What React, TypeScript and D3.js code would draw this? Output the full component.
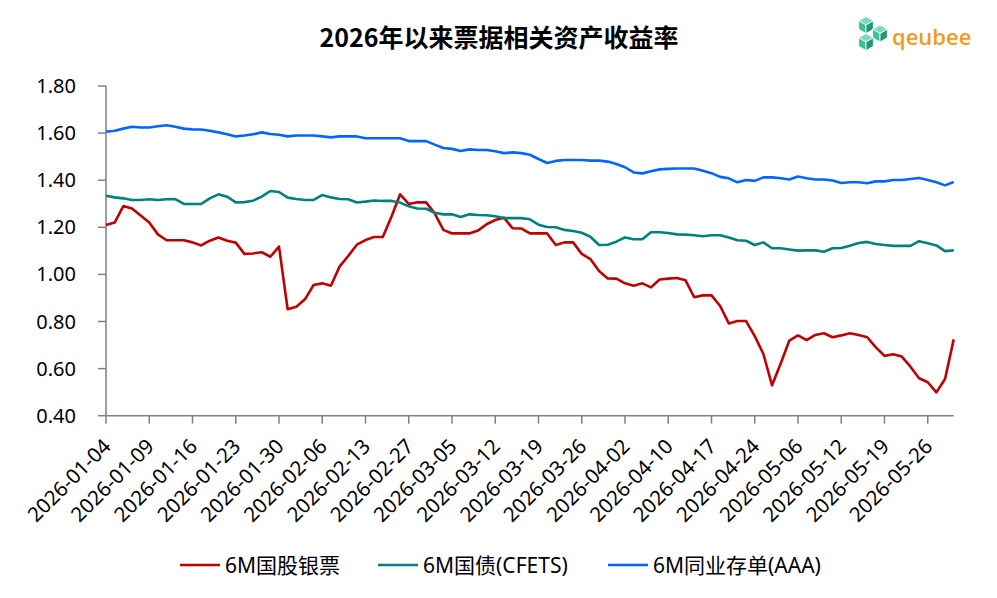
import React from "react";
import * as d3 from "d3";

const dates: string[] = [
  "2026-01-04","2026-01-05","2026-01-06","2026-01-07","2026-01-08","2026-01-09",
  "2026-01-12","2026-01-13","2026-01-14","2026-01-15","2026-01-16",
  "2026-01-19","2026-01-20","2026-01-21","2026-01-22","2026-01-23",
  "2026-01-26","2026-01-27","2026-01-28","2026-01-29","2026-01-30",
  "2026-02-02","2026-02-03","2026-02-04","2026-02-05","2026-02-06",
  "2026-02-09","2026-02-10","2026-02-11","2026-02-12","2026-02-13",
  "2026-02-14","2026-02-24","2026-02-25","2026-02-26","2026-02-27",
  "2026-02-28","2026-03-02","2026-03-03","2026-03-04","2026-03-05",
  "2026-03-06","2026-03-09","2026-03-10","2026-03-11","2026-03-12",
  "2026-03-13","2026-03-16","2026-03-17","2026-03-18","2026-03-19",
  "2026-03-20","2026-03-23","2026-03-24","2026-03-25","2026-03-26",
  "2026-03-27","2026-03-30","2026-03-31","2026-04-01","2026-04-02",
  "2026-04-03","2026-04-07","2026-04-08","2026-04-09","2026-04-10",
  "2026-04-13","2026-04-14","2026-04-15","2026-04-16","2026-04-17",
  "2026-04-20","2026-04-21","2026-04-22","2026-04-23","2026-04-24",
  "2026-04-27","2026-04-28","2026-04-29","2026-04-30","2026-05-06",
  "2026-05-07","2026-05-08","2026-05-09","2026-05-11","2026-05-12",
  "2026-05-13","2026-05-14","2026-05-15","2026-05-18","2026-05-19",
  "2026-05-20","2026-05-21","2026-05-22","2026-05-25","2026-05-26",
  "2026-05-27","2026-05-28","2026-05-29",
];

const tickLabels: string[] = [
  "2026-01-04","2026-01-09","2026-01-16","2026-01-23","2026-01-30",
  "2026-02-06","2026-02-13","2026-02-27","2026-03-05","2026-03-12",
  "2026-03-19","2026-03-26","2026-04-02","2026-04-10","2026-04-17",
  "2026-04-24","2026-05-06","2026-05-12","2026-05-19","2026-05-26",
];

const bankBill: number[] = [
  1.21,1.22,1.29,1.28,1.25,1.22,1.17,1.145,1.145,1.145,
  1.136,1.123,1.143,1.157,1.143,1.135,1.087,1.089,1.094,1.075,
  1.118,0.852,0.863,0.894,0.955,0.962,0.952,1.033,1.078,1.126,
  1.146,1.159,1.159,1.245,1.34,1.299,1.306,1.306,1.259,1.189,
  1.174,1.174,1.174,1.186,1.213,1.231,1.241,1.196,1.195,1.174,
  1.174,1.174,1.125,1.136,1.136,1.087,1.065,1.014,0.983,0.982,
  0.962,0.952,0.962,0.945,0.978,0.982,0.985,0.975,0.903,0.911,
  0.911,0.866,0.792,0.802,0.802,0.738,0.662,0.529,0.622,0.719,
  0.741,0.721,0.743,0.75,0.733,0.741,0.75,0.743,0.733,0.69,
  0.654,0.661,0.651,0.608,0.559,0.542,0.499,0.556,0.724,
];

const govBond: number[] = [
  1.334,1.327,1.323,1.316,1.316,1.319,1.316,1.319,1.32,1.299,
  1.299,1.299,1.323,1.34,1.33,1.306,1.307,1.313,1.33,1.354,
  1.35,1.326,1.32,1.316,1.316,1.337,1.327,1.32,1.319,1.305,
  1.309,1.314,1.312,1.312,1.305,1.289,1.28,1.279,1.262,1.255,
  1.255,1.244,1.255,1.252,1.251,1.247,1.239,1.239,1.239,1.234,
  1.211,1.201,1.2,1.189,1.184,1.177,1.16,1.125,1.126,1.139,
  1.157,1.149,1.149,1.179,1.179,1.176,1.17,1.169,1.166,1.162,
  1.166,1.166,1.157,1.145,1.143,1.125,1.136,1.111,1.111,1.106,
  1.101,1.102,1.102,1.096,1.111,1.112,1.122,1.133,1.138,1.129,
  1.125,1.121,1.121,1.121,1.141,1.132,1.123,1.099,1.102,
];

const ncd: number[] = [
  1.606,1.61,1.619,1.627,1.624,1.624,1.629,1.633,1.627,1.619,
  1.616,1.615,1.61,1.603,1.595,1.586,1.59,1.595,1.603,1.596,
  1.593,1.586,1.59,1.59,1.59,1.586,1.582,1.586,1.586,1.586,
  1.578,1.578,1.578,1.578,1.578,1.566,1.566,1.566,1.551,1.537,
  1.533,1.524,1.531,1.528,1.528,1.523,1.515,1.518,1.515,1.508,
  1.49,1.473,1.482,1.486,1.486,1.486,1.483,1.483,1.479,1.469,
  1.455,1.433,1.429,1.438,1.446,1.448,1.45,1.45,1.45,1.44,
  1.43,1.414,1.408,1.391,1.401,1.397,1.412,1.412,1.408,1.403,
  1.416,1.408,1.403,1.403,1.399,1.388,1.391,1.391,1.387,1.395,
  1.395,1.401,1.401,1.405,1.409,1.401,1.391,1.378,1.392,
];

const yTicks: number[] = [0.4, 0.6, 0.8, 1.0, 1.2, 1.4, 1.6, 1.8];

const seriesNames: string[] = ["6M国股银票", "6M国债(CFETS)", "6M同业存单(AAA)"];
const seriesColors: string[] = ["#C00000", "#00807F", "#0066FF"];

const FONT = "'Noto Sans', 'Noto Sans CJK SC', sans-serif";

function Cube({ cx, cy, r }: { cx: number; cy: number; r: number }) {
  const h = r * Math.sqrt(3) / 2;
  const top = [[cx, cy - r], [cx + h, cy - r / 2], [cx, cy], [cx - h, cy - r / 2]];
  const left = [[cx - h, cy - r / 2], [cx, cy], [cx, cy + r], [cx - h, cy + r / 2]];
  const right = [[cx + h, cy - r / 2], [cx, cy], [cx, cy + r], [cx + h, cy + r / 2]];
  const p = (pts: number[][]) => pts.map((q) => q.join(",")).join(" ");
  return (
    <g stroke="#fff" strokeWidth={0.8}>
      <polygon points={p(top)} fill="#7ADBBF" />
      <polygon points={p(left)} fill="#3DBF97" />
      <polygon points={p(right)} fill="#23967A" />
    </g>
  );
}

export default function App() {
  const width = 997;
  const height = 598;
  const x0 = 106;
  const x1 = 953.7;
  const yTop = 86;
  const yBot = 415.7;

  const x = d3.scalePoint<string>().domain(dates).range([x0, x1]);
  const y = d3.scaleLinear().domain([0.4, 1.8]).range([yBot, yTop]);

  const line = d3
    .line<number>()
    .x((_, i) => x(dates[i]) as number)
    .y((d) => y(d));

  const series = [bankBill, govBond, ncd];
  const legendX = [180, 378, 608];

  return (
    <svg width={width} height={height} style={{ position: "absolute", left: 0, top: 0, background: "#fff" }} fontFamily={FONT}>
      <rect x={0} y={0} width={width} height={height} fill="#fff" />
      <text x={499} y={47} textAnchor="middle" fontSize={25} fontWeight={700} fill="#000" fontFamily="'Noto Sans CJK SC', sans-serif">
        2026年以来票据相关资产收益率
      </text>

      {/* logo */}
      <g>
        <Cube cx={866} cy={25} r={8.5} />
        <Cube cx={880} cy={33.5} r={8.5} />
        <Cube cx={866} cy={42} r={8.5} />
      </g>
      <text x={892} y={45} fontSize={22} fontWeight={600} fill="#F39A1E" fontFamily="'Open Sans', sans-serif">qeubee</text>

      {/* y axis */}
      <line x1={x0} x2={x0} y1={yTop} y2={yBot} stroke="#808080" strokeWidth={1.5} />
      {yTicks.map((t) => (
        <g key={t}>
          <line x1={x0 - 8} x2={x0} y1={y(t)} y2={y(t)} stroke="#808080" strokeWidth={1.5} />
          <text x={76} y={y(t)} dy="0.35em" textAnchor="end" fontSize={20} fill="#000">
            {t.toFixed(2)}
          </text>
        </g>
      ))}

      {/* x axis */}
      <line x1={x0} x2={x1} y1={yBot} y2={yBot} stroke="#808080" strokeWidth={1.5} />
      {tickLabels.map((d) => {
        const tx = x(d) as number;
        return (
          <g key={d}>
            <line x1={tx} x2={tx} y1={yBot} y2={yBot + 8} stroke="#808080" strokeWidth={1.5} />
            <text
              transform={`translate(${tx + 6},${yBot + 32}) rotate(-45)`}
              textAnchor="end"
              fontSize={20.5}
              fill="#000"
            >
              {d}
            </text>
          </g>
        );
      })}

      {/* lines */}
      {series.map((s, k) => (
        <path key={k} d={line(s) || ""} fill="none" stroke={seriesColors[k]} strokeWidth={2.6} strokeLinejoin="round" />
      ))}

      {/* legend */}
      {seriesNames.map((n, k) => (
        <g key={n}>
          <line x1={legendX[k]} x2={legendX[k] + 40} y1={565} y2={565} stroke={seriesColors[k]} strokeWidth={2.6} />
          <text x={legendX[k] + 45} y={565} dy="0.36em" fontSize={21} fill="#000">
            {n}
          </text>
        </g>
      ))}
    </svg>
  );
}
